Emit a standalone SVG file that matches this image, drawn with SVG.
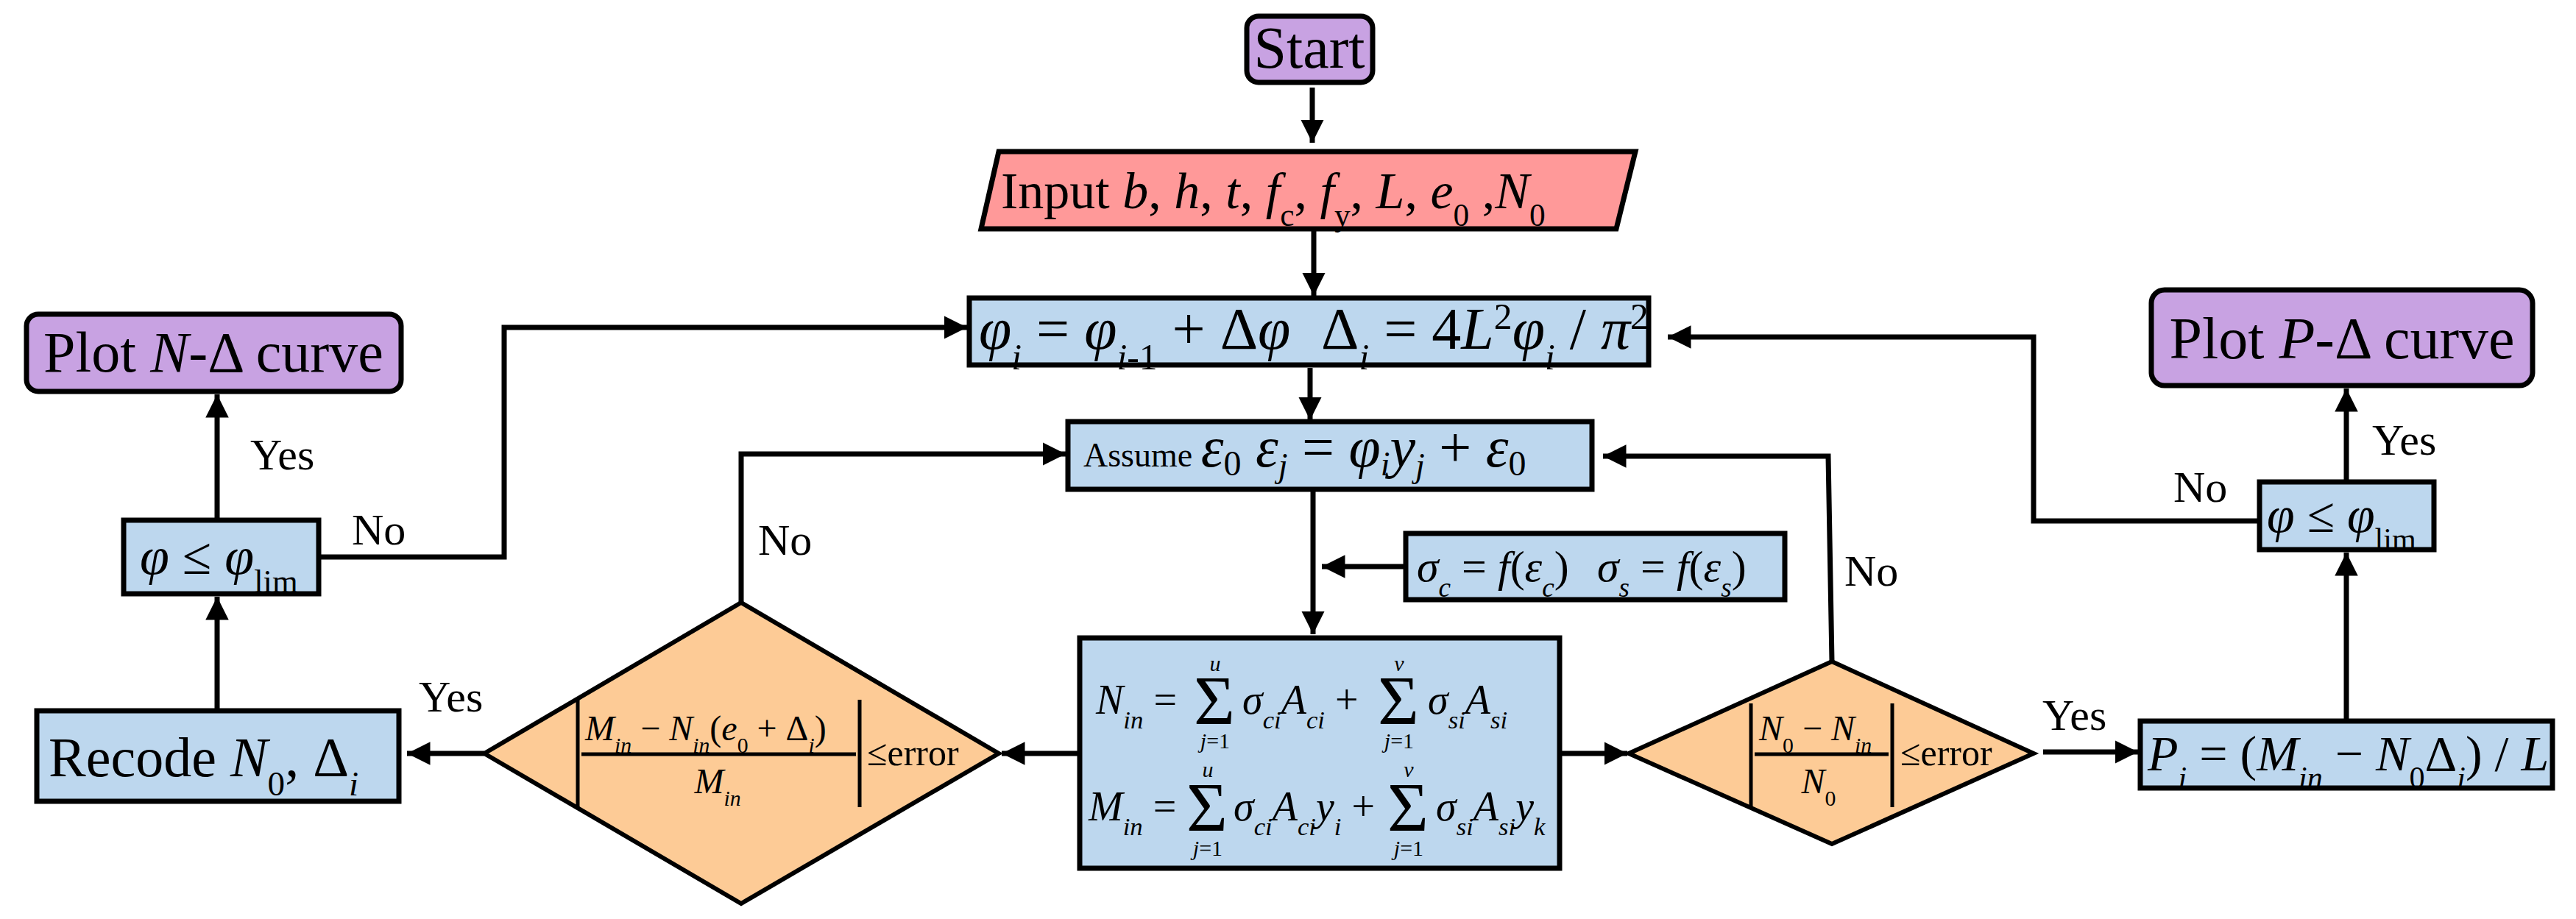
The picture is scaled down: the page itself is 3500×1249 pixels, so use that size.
<svg xmlns="http://www.w3.org/2000/svg" width="3500" height="1249" viewBox="0 0 3500 1249">
<style>
text{font-family:"Liberation Serif","Times New Roman",serif;fill:#000}
.i{font-style:italic}
.sb{baseline-shift:sub;font-size:62%}
.sp{baseline-shift:super;font-size:62%}
.blue{fill:#bdd7ee;stroke:#000;stroke-width:7}
.purple{fill:#c8a2e2;stroke:#000;stroke-width:7}
.red{fill:#ff9999;stroke:#000;stroke-width:7}
.orange{fill:#fdcb96;stroke:#000;stroke-width:6}
.ln{fill:none;stroke:#000;stroke-width:7}
.bar{stroke:#000;stroke-width:5}
.lim{font-size:30px}
</style>
<defs>
<marker id="ah" viewBox="0 0 10 10" refX="10" refY="5" markerWidth="4.5" markerHeight="4.5" orient="auto" markerUnits="strokeWidth">
<path d="M0,0L10,5L0,10z" fill="#000"/>
</marker>
</defs>
<g id="connectors" class="ln">
<path d="M1783,119V194" marker-end="url(#ah)"/>
<path d="M1785,311V402" marker-end="url(#ah)"/>
<path d="M1780,500V571" marker-end="url(#ah)"/>
<path d="M1784,665V862" marker-end="url(#ah)"/>
<path d="M1910,770H1796" marker-end="url(#ah)"/>
<path d="M2119,1024H2211" marker-end="url(#ah)"/>
<path d="M1467,1024H1361" marker-end="url(#ah)"/>
<path d="M658,1024H553" marker-end="url(#ah)"/>
<path d="M295,966V811" marker-end="url(#ah)"/>
<path d="M295,707V536" marker-end="url(#ah)"/>
<path d="M433,757H685V445H1314" marker-end="url(#ah)"/>
<path d="M1007,819V617H1448" marker-end="url(#ah)"/>
<path d="M2489,899L2484,620H2178" marker-end="url(#ah)"/>
<path d="M2776,1022H2905" marker-end="url(#ah)"/>
<path d="M3188,980V751" marker-end="url(#ah)"/>
<path d="M3188,655V528" marker-end="url(#ah)"/>
<path d="M3070,708H2763V458H2266" marker-end="url(#ah)"/>
</g>
<g id="labels" font-size="60">
<text x="340" y="638">Yes</text>
<text x="478" y="740">No</text>
<text x="1030" y="754">No</text>
<text x="569" y="967">Yes</text>
<text x="2506" y="796">No</text>
<text x="2775" y="992">Yes</text>
<text x="2953" y="682">No</text>
<text x="3223" y="618">Yes</text>
</g>
<g id="start">
<rect class="purple" x="1694" y="22" width="171" height="90" rx="16"/>
<text x="1779" y="92" font-size="80" text-anchor="middle">Start</text>
</g>
<g id="input">
<path class="red" d="M1357,206H2222L2196,311H1333Z"/>
<text x="1360" y="283" font-size="70">Input <tspan class="i">b</tspan>, <tspan class="i">h</tspan>, <tspan class="i">t</tspan>, <tspan class="i">f</tspan><tspan class="sb">c</tspan>, <tspan class="i">f</tspan><tspan class="sb">y</tspan>, <tspan class="i">L</tspan>, <tspan class="i">e</tspan><tspan class="sb">0</tspan> ,<tspan class="i">N</tspan><tspan class="sb">0</tspan></text>
</g>
<g id="phi">
<rect class="blue" x="1317" y="405" width="923" height="91"/>
<text x="1330" y="474" font-size="80"><tspan class="i">φ</tspan><tspan class="sb i">i</tspan> = <tspan class="i">φ</tspan><tspan class="sb"><tspan class="i">i</tspan>-1</tspan> + Δ<tspan class="i">φ</tspan><tspan x="1795" dy="0">Δ</tspan><tspan class="sb i">i</tspan> = 4<tspan class="i">L</tspan><tspan class="sp">2</tspan><tspan class="i">φ</tspan><tspan class="sb i">i</tspan> / <tspan class="i">π</tspan><tspan class="sp">2</tspan></text>
</g>
<g id="assume">
<rect class="blue" x="1451" y="573" width="712" height="92"/>
<text x="1472" y="634" font-size="46">Assume <tspan font-size="78" class="i">ε</tspan><tspan font-size="48" dy="12">0</tspan><tspan font-size="78" dy="-12" class="i"> ε</tspan><tspan font-size="46" dy="14" class="i">j</tspan><tspan font-size="78" dy="-14"> = </tspan><tspan font-size="78" class="i">φ</tspan><tspan font-size="46" dy="12" class="i">i</tspan><tspan font-size="78" dy="-12" class="i">y</tspan><tspan font-size="46" dy="14" class="i">j</tspan><tspan font-size="78" dy="-14"> + </tspan><tspan font-size="78" class="i">ε</tspan><tspan font-size="48" dy="12">0</tspan></text>
</g>
<g id="sigma">
<rect class="blue" x="1910" y="725" width="515" height="90"/>
<text x="1925" y="790" font-size="60"><tspan class="i">σ</tspan><tspan class="sb i">c</tspan> = <tspan class="i">f</tspan>(<tspan class="i">ε</tspan><tspan class="sb i">c</tspan>)  <tspan x="2170" class="i">σ</tspan><tspan class="sb i">s</tspan> = <tspan class="i">f</tspan>(<tspan class="i">ε</tspan><tspan class="sb i">s</tspan>)</text>
</g>
<g id="force">
<rect class="blue" x="1467" y="867" width="652" height="313"/>
<g font-size="56">
<text x="1489" y="970"><tspan class="i">N</tspan><tspan class="sb i">in</tspan> =</text>
<text x="1622" y="985" font-size="96">Σ</text>
<text x="1688" y="970"><tspan class="i">σ</tspan><tspan class="sb i">ci</tspan><tspan class="i">A</tspan><tspan class="sb i">ci</tspan> +</text>
<text x="1872" y="985" font-size="96">Σ</text>
<text x="1940" y="970"><tspan class="i">σ</tspan><tspan class="sb i">si</tspan><tspan class="i">A</tspan><tspan class="sb i">si</tspan></text>
<text x="1651" y="912" class="i lim" text-anchor="middle">u</text>
<text x="1901" y="912" class="i lim" text-anchor="middle">v</text>
<text x="1651" y="1017" class="lim" text-anchor="middle"><tspan class="i">j</tspan>=1</text>
<text x="1901" y="1017" class="lim" text-anchor="middle"><tspan class="i">j</tspan>=1</text>
<text x="1479" y="1115"><tspan class="i">M</tspan><tspan class="sb i">in</tspan> =</text>
<text x="1612" y="1130" font-size="96">Σ</text>
<text x="1676" y="1115"><tspan class="i">σ</tspan><tspan class="sb i">ci</tspan><tspan class="i">A</tspan><tspan class="sb i">ci</tspan><tspan class="i">y</tspan><tspan class="sb i">i</tspan> +</text>
<text x="1885" y="1130" font-size="96">Σ</text>
<text x="1951" y="1115"><tspan class="i">σ</tspan><tspan class="sb i">si</tspan><tspan class="i">A</tspan><tspan class="sb i">si</tspan><tspan class="i">y</tspan><tspan class="sb i">k</tspan></text>
<text x="1641" y="1056" class="i lim" text-anchor="middle">u</text>
<text x="1914" y="1056" class="i lim" text-anchor="middle">v</text>
<text x="1641" y="1163" class="lim" text-anchor="middle"><tspan class="i">j</tspan>=1</text>
<text x="1914" y="1163" class="lim" text-anchor="middle"><tspan class="i">j</tspan>=1</text>
</g>
</g>
<g id="check-m">
<path class="orange" d="M658,1024L1007,819L1357,1024L1007,1228Z"/>
<line class="bar" x1="785" y1="951" x2="785" y2="1097"/>
<line class="bar" x1="1168" y1="951" x2="1168" y2="1097"/>
<line class="bar" x1="790" y1="1025" x2="1163" y2="1025" stroke-width="4"/>
<text x="795" y="1006" font-size="48"><tspan class="i">M</tspan><tspan class="sb i">in</tspan> − <tspan class="i">N</tspan><tspan class="sb i">in</tspan>(<tspan class="i">e</tspan><tspan class="sb">0</tspan> + Δ<tspan class="sb i">i</tspan>)</text>
<text x="975" y="1078" font-size="48" text-anchor="middle"><tspan class="i">M</tspan><tspan class="sb i">in</tspan></text>
<text x="1178" y="1040" font-size="50">≤error</text>
</g>
<g id="check-n">
<path class="orange" d="M2213,1024L2489,899L2763,1024L2489,1147Z"/>
<line class="bar" x1="2379" y1="956" x2="2379" y2="1097"/>
<line class="bar" x1="2571" y1="956" x2="2571" y2="1097"/>
<line class="bar" x1="2384" y1="1025" x2="2566" y2="1025" stroke-width="4"/>
<text x="2390" y="1006" font-size="48"><tspan class="i">N</tspan><tspan class="sb">0</tspan> − <tspan class="i">N</tspan><tspan class="sb i">in</tspan></text>
<text x="2471" y="1078" font-size="48" text-anchor="middle"><tspan class="i">N</tspan><tspan class="sb">0</tspan></text>
<text x="2582" y="1040" font-size="50">≤error</text>
</g>
<g id="recode">
<rect class="blue" x="50" y="966" width="492" height="123"/>
<text x="66" y="1055" font-size="76">Recode <tspan class="i">N</tspan><tspan class="sb">0</tspan>, Δ<tspan class="sb i">i</tspan></text>
</g>
<g id="philim-left">
<rect class="blue" x="168" y="707" width="265" height="100"/>
<text x="190" y="780" font-size="72"><tspan class="i">φ</tspan> ≤ <tspan class="i">φ</tspan><tspan class="sb">lim</tspan></text>
</g>
<g id="plot-n">
<rect class="purple" x="36" y="427" width="509" height="105" rx="16"/>
<text x="290" y="505" font-size="78" text-anchor="middle">Plot <tspan class="i">N</tspan>-Δ curve</text>
</g>
<g id="p-box">
<rect class="blue" x="2908" y="980" width="560" height="91"/>
<text x="2918" y="1047" font-size="68"><tspan class="i">P</tspan><tspan class="sb i">i</tspan> = (<tspan class="i">M</tspan><tspan class="sb i">in</tspan> − <tspan class="i">N</tspan><tspan class="sb">0</tspan>Δ<tspan class="sb i">i</tspan>) / <tspan class="i">L</tspan></text>
</g>
<g id="philim-right">
<rect class="blue" x="3070" y="655" width="237" height="92"/>
<text x="3080" y="723" font-size="68"><tspan class="i">φ</tspan> ≤ <tspan class="i">φ</tspan><tspan class="sb">lim</tspan></text>
</g>
<g id="plot-p">
<rect class="purple" x="2923" y="394" width="518" height="130" rx="18"/>
<text x="3182" y="487" font-size="80" text-anchor="middle">Plot <tspan class="i">P</tspan>-Δ curve</text>
</g>
</svg>
